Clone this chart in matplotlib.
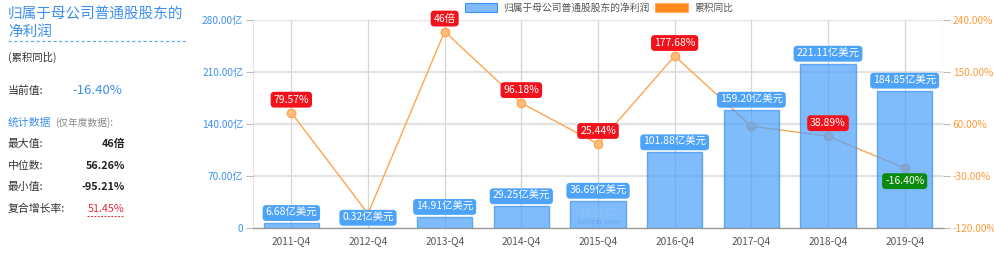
import matplotlib
matplotlib.use("Agg")
import matplotlib.pyplot as plt
from matplotlib.patches import Rectangle
from matplotlib.lines import Line2D

plt.rcParams['font.family'] = ['Noto Sans CJK SC', 'DejaVu Sans']

categories = ["2011-Q4", "2012-Q4", "2013-Q4", "2014-Q4", "2015-Q4",
              "2016-Q4", "2017-Q4", "2018-Q4", "2019-Q4"]
profit = [6.68, 0.32, 14.91, 29.25, 36.69, 101.88, 159.20, 221.11, 184.85]
profit_labels = ["6.68亿美元", "0.32亿美元", "14.91亿美元", "29.25亿美元", "36.69亿美元",
                 "101.88亿美元", "159.20亿美元", "221.11亿美元", "184.85亿美元"]
yoy = [79.57, -95.21, 220.0, 96.18, 25.44, 177.68, 56.26, 38.89, -16.40]
yoy_labels = ["79.57%", "", "46倍", "96.18%", "25.44%", "177.68%", "", "38.89%", "-16.40%"]
left_ticks = [0, 70, 140, 210, 280]
left_tick_labels = ["0", "70.00亿", "140.00亿", "210.00亿", "280.00亿"]
right_ticks = [-120, -30, 60, 150, 240]
right_tick_labels = ["-120.00%", "-30.00%", "60.00%", "150.00%", "240.00%"]

W, H = 995, 258
fig = plt.figure(figsize=(W / 100, H / 100), dpi=100)

BLUE_TXT = "#3D8FF0"
ORANGE_TXT = "#FF9A3C"
BAR_C = (0.31, 0.63, 0.98)
BAR_EDGE = "#3C92F0"
LINE_C = "#FFA54D"

def fx(x):
    return x / W

def fy(y):
    return 1 - y / H

# axes: line (host) below, bars (twin) above
ax1 = fig.add_axes([fx(253), fy(228), (943 - 253) / W, (228 - 20) / H])
ax2 = ax1.twinx()
ax2.patch.set_visible(False)

x = list(range(len(categories)))

# grid
ax1.set_ylim(-120, 240)
ax1.set_xlim(-0.5, len(categories) - 0.5)
for t in right_ticks[1:]:
    ax1.axhline(t, color="#E3E3E3", lw=1.6, zorder=0)
for xi in x:
    ax1.axvline(xi, color="#D6D6D6", lw=0.9, zorder=0)
ax1.axvline(len(categories) - 0.5, color="#E3E3E3", lw=1.0, zorder=0)

# line
ax1.plot(x, yoy, color=LINE_C, lw=1.0, zorder=2, marker="o", markersize=6,
         markerfacecolor="#FFBE80", markeredgecolor=LINE_C, markeredgewidth=1.0)

# bars
ax2.set_ylim(0, 280)
ax2.bar(x, profit, width=0.72, color=BAR_C, alpha=0.72, edgecolor=BAR_EDGE,
        linewidth=1.0, zorder=3)

# bar labels
for xi, v, s in zip(x, profit, profit_labels):
    ax2.annotate(s, (xi, v), xytext=(0, 10), textcoords="offset pixels",
                 ha="center", va="center", color="white", fontsize=7.5, zorder=6,
                 bbox=dict(boxstyle="round,pad=0.28,rounding_size=0.35",
                           fc="#4DA2FA", ec="none"))

# line labels (drawn above bars)
for xi, v, s in zip(x, yoy, yoy_labels):
    if not s:
        continue
    if v < 0:
        fc, off = "#0B8A0B", -13
    else:
        fc, off = "#F2121B", 13
    ax2.annotate(s, (xi, v), xycoords=ax1.transData, xytext=(0, off),
                 textcoords="offset pixels", ha="center", va="center",
                 color="white", fontsize=7.5, zorder=7,
                 bbox=dict(boxstyle="round,pad=0.28,rounding_size=0.35",
                           fc=fc, ec="none"))

# ticks: left = bars, right = percent
ax2.yaxis.tick_left()
ax2.yaxis.set_label_position("left")
ax1.yaxis.tick_right()
ax2.set_yticks(left_ticks)
ax2.set_yticklabels(left_tick_labels, color=BLUE_TXT, fontsize=7.3)
ax1.set_yticks(right_ticks)
ax1.set_yticklabels(right_tick_labels, color=ORANGE_TXT, fontsize=7.3)
ax2.tick_params(axis="y", length=5, color="#BBBBBB", pad=2)
ax1.tick_params(axis="y", length=5, color="#BBBBBB", pad=2)
ax1.set_xticks(x)
ax1.set_xticklabels(categories, color="#555555", fontsize=7.3)
ax1.tick_params(axis="x", length=0, pad=6)
ax2.tick_params(axis="x", length=0)
for a in (ax1, ax2):
    for sp in ("top", "right", "left"):
        a.spines[sp].set_visible(False)
ax2.spines["bottom"].set_visible(False)
ax1.spines["bottom"].set_color("#999999")
ax1.spines["bottom"].set_linewidth(1.0)
ax1.spines["left"].set_visible(True)
ax1.spines["left"].set_color("#E3E3E3")

# watermark
ax2.text(4, 8.5, "lixinger.com", ha="center", va="center", fontsize=5.5,
         color="#5A9BE8", alpha=0.6, zorder=5)
ax2.text(4, 20, "理 杏 仁", ha="center", va="center", fontsize=7,
         color="#9CC3EE", alpha=0.6, zorder=5)

# legend
fig.patches.append(Rectangle((fx(465), fy(12)), 32 / W, 9 / H, transform=fig.transFigure,
                             fc="#7FBAFA", ec="#3C92F0", lw=0.8))
fig.text(fx(503), fy(7.5), "归属于母公司普通股股东的净利润", fontsize=7, color="#555555",
         va="center", ha="left")
fig.patches.append(Rectangle((fx(655), fy(12)), 33 / W, 9 / H, transform=fig.transFigure,
                             fc="#FF8A1A", ec="#FFB060", lw=0.8))
fig.text(fx(694), fy(7.5), "累积同比", fontsize=7, color="#555555", va="center", ha="left")

# left panel
fig.text(fx(8), fy(15), "归属于母公司普通股股东的", fontsize=10.5, color=BLUE_TXT,
         va="center", ha="left")
fig.text(fx(8), fy(32), "净利润", fontsize=10.5, color=BLUE_TXT, va="center", ha="left")
fig.lines.append(Line2D([fx(8), fx(187)], [fy(41), fy(41)], transform=fig.transFigure,
                        color="#6AA8F0", lw=0.9, ls=(0, (2.5, 2))))
fig.text(fx(8), fy(57), "(累积同比)", fontsize=7.5, color="#333333", va="center", ha="left")
fig.text(fx(8), fy(91), "当前值:", fontsize=7.8, color="#333333", va="center", ha="left")
fig.text(fx(72), fy(90), "-16.40%", fontsize=9.5, color=BLUE_TXT, va="center", ha="left")
fig.text(fx(8), fy(123), "统计数据", fontsize=7.8, color=BLUE_TXT, va="center", ha="left")
fig.text(fx(55), fy(123), "(仅年度数据):", fontsize=7, color="#888888", va="center", ha="left")
rows = [("最大值:", "46倍", 144), ("中位数:", "56.26%", 166), ("最小值:", "-95.21%", 187)]
for lab, val, yy in rows:
    fig.text(fx(8), fy(yy), lab, fontsize=7.8, color="#333333", va="center", ha="left")
    fig.text(fx(125), fy(yy), val, fontsize=7.8, color="#222222", va="center", ha="right",
             fontweight="bold")
fig.text(fx(8), fy(209), "复合增长率:", fontsize=7.8, color="#333333", va="center", ha="left")
fig.text(fx(125), fy(209), "51.45%", fontsize=7.8, color="#E0303A", va="center", ha="right")
fig.lines.append(Line2D([fx(87), fx(124)], [fy(216), fy(216)], transform=fig.transFigure,
                        color="#E0303A", lw=0.7, ls=(0, (2, 1.5))))

fig.savefig("out.png", dpi=100)
